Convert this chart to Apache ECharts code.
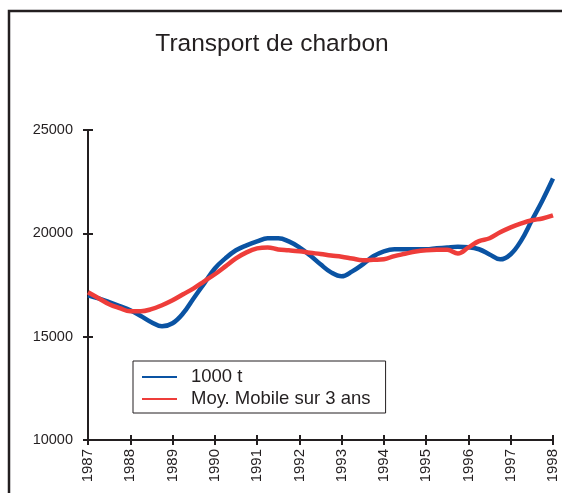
<!DOCTYPE html>
<html>
<head>
<meta charset="utf-8">
<title>Transport de charbon</title>
<script src="https://cdn.jsdelivr.net/npm/echarts@6/dist/echarts.min.js"></script>
<style>
  html, body { margin: 0; padding: 0; background: #fff; }
  #chart { width: 562px; height: 493px; }
</style>
</head>
<body>
<div id="chart"></div>
<script>
// quarterly points, 1987 -> 1998
const quarters = [];
for (let i = 0; i <= 44; i++) quarters.push(1987 + i / 4);

const yearLabels = [1987, 1988, 1989, 1990, 1991, 1992, 1993, 1994, 1995, 1996, 1997, 1998];

const tonnes = [
  17000, 16850, 16670, 16480, 16280, 16000, 15700, 15500,
  15650, 16130, 16860, 17580, 18300, 18790, 19180, 19420,
  19610, 19760, 19760, 19610, 19320, 18940, 18500, 18110,
  17920, 18160, 18500, 18890, 19130, 19230, 19230, 19230,
  19230, 19280, 19320, 19350, 19330, 19230, 18980, 18740,
  18990, 19660, 20630, 21590, 22650
];

const moyMobile = [
  17150, 16860, 16570, 16380, 16230, 16230, 16330, 16520,
  16760, 17050, 17340, 17680, 18020, 18400, 18790, 19080,
  19270, 19320, 19220, 19180, 19130, 19060, 19000, 18930,
  18870, 18780, 18700, 18720, 18750, 18900, 19010, 19120,
  19180, 19200, 19200, 19030, 19320, 19620, 19760, 20050,
  20290, 20480, 20630, 20720, 20870
];

const seriesNames = ['1000 t', 'Moy. Mobile sur 3 ans'];

const chart = echarts.init(document.getElementById('chart'));

const font = 'Liberation Sans, Arial, sans-serif';
const ink = '#231f20';

const option = {
  animation: false,
  backgroundColor: '#fff',
  title: {
    text: 'Transport de charbon',
    left: 272,
    textAlign: 'center',
    top: 32,
    padding: 0,
    textStyle: { fontFamily: font, fontSize: 24.5, fontWeight: 'normal', color: ink }
  },
  graphic: [
    {
      // outer frame, runs off the right and bottom of the picture
      type: 'rect',
      shape: { x: 9, y: 11, width: 620, height: 600 },
      style: { fill: 'none', stroke: ink, lineWidth: 2.5 },
      silent: true
    }
  ],
  legend: {
    data: seriesNames,
    orient: 'vertical',
    left: 133,
    top: 361,
    padding: [6, 15, 4, 9],
    itemGap: 2,
    itemWidth: 35,
    itemHeight: 2,
    icon: 'rect',
    backgroundColor: '#fff',
    borderColor: ink,
    borderWidth: 1,
    textStyle: { fontFamily: font, fontSize: 18.5, color: ink, lineHeight: 20, padding: [0, 0, 0, 9] }
  },
  grid: { left: 88, right: 9, top: 130, bottom: 53 },
  xAxis: [
    {
      type: 'value',
      min: 1987,
      max: 1998,
      interval: 1,
      axisLine: { lineStyle: { color: ink, width: 2 } },
      axisTick: { show: true, length: 5, lineStyle: { color: ink, width: 2 } },
      axisLabel: {
        rotate: 90,
        margin: 9,
        fontFamily: font,
        fontSize: 15,
        color: ink,
        formatter: v => (yearLabels.includes(v) ? String(v) : '')
      },
      splitLine: { show: false }
    },
    {
      // second axis only to draw the inner half of the ticks
      type: 'value',
      position: 'bottom',
      min: 1987,
      max: 1998,
      interval: 1,
      axisLine: { show: false },
      axisTick: { show: true, inside: true, length: 5, lineStyle: { color: ink, width: 2 } },
      axisLabel: { show: false },
      splitLine: { show: false }
    }
  ],
  yAxis: [
    {
      type: 'value',
      min: 10000,
      max: 25000,
      interval: 5000,
      axisLine: { show: true, lineStyle: { color: ink, width: 2 } },
      axisTick: { show: true, length: 5, lineStyle: { color: ink, width: 2 } },
      axisLabel: { margin: 15, fontFamily: font, fontSize: 14.5, color: ink, formatter: v => String(v) },
      splitLine: { show: false }
    },
    {
      type: 'value',
      position: 'left',
      min: 10000,
      max: 25000,
      interval: 5000,
      axisLine: { show: false },
      axisTick: { show: true, inside: true, length: 5, lineStyle: { color: ink, width: 2 } },
      axisLabel: { show: false },
      splitLine: { show: false }
    }
  ],
  series: [
    {
      name: seriesNames[0],
      type: 'line',
      data: quarters.map((q, i) => [q, tonnes[i]]),
      smooth: 0.4,
      showSymbol: false,
      itemStyle: { color: '#0a53a3' },
      lineStyle: { width: 4.5, color: '#0a53a3' },
      z: 2
    },
    {
      name: seriesNames[1],
      type: 'line',
      data: quarters.map((q, i) => [q, moyMobile[i]]),
      smooth: 0.4,
      showSymbol: false,
      itemStyle: { color: '#ee3d3a' },
      lineStyle: { width: 4.5, color: '#ee3d3a' },
      z: 3
    }
  ]
};

chart.setOption(option);
</script>
</body>
</html>
